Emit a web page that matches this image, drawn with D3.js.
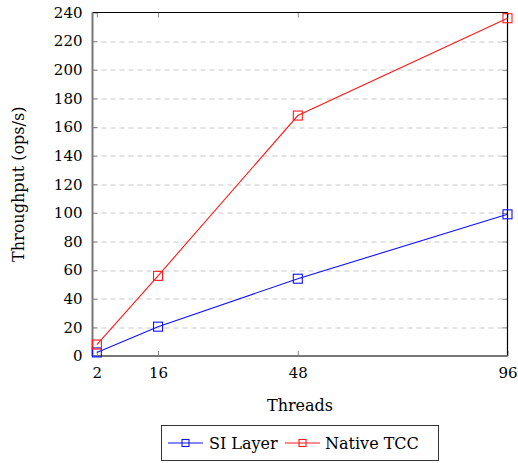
<!DOCTYPE html>
<html>
<head>
<meta charset="utf-8">
<script src="https://cdn.jsdelivr.net/npm/d3@7"></script>
<style>
  body { margin: 0; background: #fff; }
</style>
</head>
<body>
<div id="viz"></div>
<script>
// Chart data
const threads = [2, 16, 48, 96];
const siLayer = [2.5, 20.5, 54, 99];
const nativeTcc = [8, 56, 168, 236];
const yTicks = [0, 20, 40, 60, 80, 100, 120, 140, 160, 180, 200, 220, 240];

const FONT = 'DejaVu Serif';

(function () {
  const W = 518, H = 463;
  const margin = { top: 12.5, right: 10.5, bottom: 107, left: 92.5 };
  const width = W - margin.left - margin.right;
  const height = H - margin.top - margin.bottom;

  const svg = d3.select('#viz').append('svg')
    .attr('width', W).attr('height', H);

  const g = svg.append('g')
    .attr('transform', `translate(${margin.left},${margin.top})`);

  const x = d3.scaleLinear().domain([1, 96]).range([0, width]);
  const y = d3.scaleLinear().domain([0, 240]).range([height, 0]);

  // dashed grid
  g.append('g')
    .selectAll('line')
    .data(yTicks.filter((d) => d > 0 && d < 240))
    .enter().append('line')
    .attr('x1', 0).attr('x2', width)
    .attr('y1', (d) => Math.round(y(d)) + 0.5)
    .attr('y2', (d) => Math.round(y(d)) + 0.5)
    .attr('stroke', '#c8c8c8')
    .attr('stroke-dasharray', '5,4');

  // axes (ticks pointing inward)
  const tickLen = 5;
  const yAxis = g.append('g')
    .call(d3.axisLeft(y).tickValues(yTicks).tickSize(-tickLen).tickPadding(tickLen + 5));
  const xAxis = g.append('g')
    .attr('transform', `translate(0,${height})`)
    .call(d3.axisBottom(x).tickValues(threads).tickSize(-tickLen).tickPadding(tickLen + 6));
  const yAxisR = g.append('g')
    .attr('transform', `translate(${width},0)`)
    .call(d3.axisRight(y).tickValues(yTicks).tickSize(-tickLen).tickFormat(''));
  const xAxisT = g.append('g')
    .call(d3.axisTop(x).tickValues(threads).tickSize(-tickLen).tickFormat(''));

  [yAxis, xAxis, yAxisR, xAxisT].forEach((a) => {
    a.select('.domain').remove();
    a.attr('font-family', FONT).attr('font-size', 15);
    a.selectAll('.tick line').attr('stroke', '#888');
  });
  [yAxis, xAxis].forEach((a) => {
    a.selectAll('.tick text').attr('fill', '#000');
  });

  // frame
  g.append('line').attr('x1', 0).attr('x2', width).attr('y1', 0).attr('y2', 0)
    .attr('stroke', '#000').attr('stroke-width', 1.2);
  g.append('line').attr('x1', width).attr('x2', width).attr('y1', 0).attr('y2', height)
    .attr('stroke', '#000').attr('stroke-width', 1.2);
  g.append('line').attr('x1', 0).attr('x2', 0).attr('y1', 0).attr('y2', height)
    .attr('stroke', '#777').attr('stroke-width', 2);
  g.append('line').attr('x1', 0).attr('x2', width).attr('y1', height).attr('y2', height)
    .attr('stroke', '#777').attr('stroke-width', 2);

  // series
  const series = [
    { name: 'SI Layer', values: siLayer, color: '#1010ff' },
    { name: 'Native TCC', values: nativeTcc, color: '#ff1a1a' }
  ];

  const line = d3.line()
    .x((d, i) => x(threads[i]))
    .y((d) => y(d));

  const ms = 9;
  series.forEach((s) => {
    g.append('path')
      .datum(s.values)
      .attr('d', line)
      .attr('fill', 'none')
      .attr('stroke', s.color)
      .attr('stroke-width', 1.1);
    g.selectAll(null)
      .data(s.values)
      .enter().append('rect')
      .attr('x', (d, i) => x(threads[i]) - ms / 2)
      .attr('y', (d) => y(d) - ms / 2)
      .attr('width', ms).attr('height', ms)
      .attr('fill', 'none')
      .attr('stroke', s.color)
      .attr('stroke-width', 1.1);
  });

  // axis titles
  svg.append('text')
    .attr('x', margin.left + width / 2)
    .attr('y', 411)
    .attr('text-anchor', 'middle')
    .attr('font-family', FONT)
    .attr('font-size', 16)
    .text('Threads');

  svg.append('text')
    .attr('transform', `translate(24,${margin.top + height / 2}) rotate(-90)`)
    .attr('text-anchor', 'middle')
    .attr('font-family', FONT)
    .attr('font-size', 16)
    .text('Throughput (ops/s)');

  // legend
  const lg = svg.append('g');
  lg.append('rect')
    .attr('x', 161.5).attr('y', 425.5)
    .attr('width', 277).attr('height', 35)
    .attr('fill', '#fff').attr('stroke', '#333').attr('stroke-width', 1);

  const legendItems = [
    { s: series[0], x0: 168, tx: 209 },
    { s: series[1], x0: 285, tx: 325 }
  ];
  const ly = 443;
  legendItems.forEach((it) => {
    lg.append('line')
      .attr('x1', it.x0).attr('x2', it.x0 + 35)
      .attr('y1', ly).attr('y2', ly)
      .attr('stroke', it.s.color).attr('stroke-width', 1.1);
    lg.append('rect')
      .attr('x', it.x0 + 17.5 - 3.5).attr('y', ly - 3.5)
      .attr('width', 7).attr('height', 7)
      .attr('fill', 'none').attr('stroke', it.s.color).attr('stroke-width', 1.1);
    lg.append('text')
      .attr('x', it.tx).attr('y', ly + 6)
      .attr('font-family', FONT)
      .attr('font-size', 16)
      .text(it.s.name);
  });
})();
</script>
</body>
</html>
